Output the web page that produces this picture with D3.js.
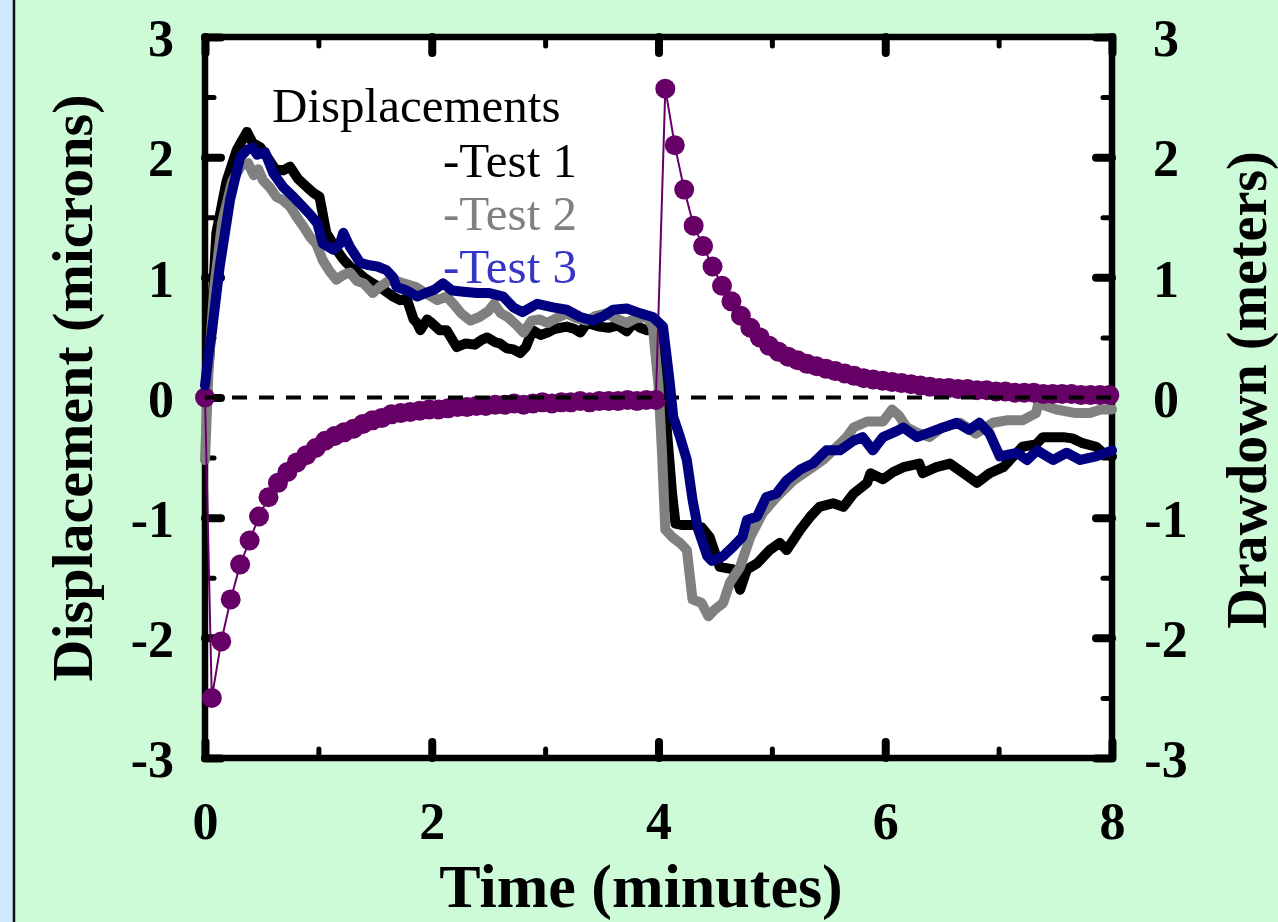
<!DOCTYPE html>
<html>
<head>
<meta charset="utf-8">
<script src="https://cdn.jsdelivr.net/npm/d3@7"></script>
<style>
  html, body { margin: 0; padding: 0; background: #cdfbd8; }
  svg { display: block; font-family: "Liberation Serif", "Times New Roman", serif; }
</style>
</head>
<body>
<div id="chart-container"></div>
<script>
/**************************************************
 * Data
 **************************************************/

// Displacement traces, [minutes, microns]
const test1 = [
  [0,0],[0.04,0.35],[0.1,1.37],[0.19,1.8],[0.28,2.06],[0.37,2.21],[0.42,2.12],[0.49,2.08],[0.55,2.0],[0.62,1.9],
  [0.69,1.89],[0.75,1.92],[0.82,1.82],[0.9,1.75],[0.96,1.7],[1.01,1.67],[1.07,1.37],[1.16,1.23],[1.22,1.15],[1.28,1.09],
  [1.34,1.05],[1.4,1.0],[1.48,0.95],[1.57,0.9],[1.66,0.84],[1.72,0.81],[1.78,0.82],[1.84,0.65],[1.87,0.62],[1.9,0.56],
  [1.96,0.65],[2.0,0.62],[2.07,0.56],[2.13,0.56],[2.22,0.42],[2.3,0.45],[2.38,0.44],[2.44,0.48],[2.49,0.5],[2.56,0.46],
  [2.6,0.45],[2.66,0.41],[2.72,0.4],[2.78,0.37],[2.83,0.42],[2.89,0.56],[2.96,0.52],[3.02,0.54],[3.08,0.57],[3.19,0.59],
  [3.26,0.57],[3.31,0.54],[3.37,0.62],[3.48,0.59],[3.56,0.58],[3.64,0.6],[3.72,0.55],[3.78,0.62],[3.84,0.58],[3.9,0.56],
  [3.98,0.56],[4.05,0],[4.12,-0.8],[4.15,-1.05],[4.2,-1.06],[4.3,-1.06],[4.38,-1.08],[4.45,-1.16],[4.54,-1.41],[4.6,-1.42],
  [4.66,-1.43],[4.72,-1.6],[4.78,-1.43],[4.87,-1.38],[4.98,-1.27],[5.07,-1.21],[5.13,-1.27],[5.25,-1.1],[5.34,-0.99],[5.42,-0.91],
  [5.54,-0.88],[5.63,-0.91],[5.72,-0.8],[5.84,-0.71],[5.87,-0.63],[5.98,-0.68],[6.07,-0.62],[6.16,-0.58],[6.3,-0.55],[6.33,-0.63],
  [6.45,-0.58],[6.57,-0.55],[6.69,-0.63],[6.81,-0.71],[6.92,-0.63],[7.04,-0.58],[7.13,-0.49],[7.21,-0.41],[7.33,-0.39],[7.39,-0.33],
  [7.57,-0.33],[7.65,-0.34],[7.74,-0.38],[7.86,-0.41],[7.92,-0.46],[8.0,-0.49]
];

const test2 = [
  [0,-0.52],[0.03,0.2],[0.08,0.9],[0.15,1.45],[0.24,1.8],[0.32,1.93],[0.38,1.95],[0.43,1.85],[0.47,1.9],[0.51,1.81],
  [0.57,1.75],[0.63,1.67],[0.69,1.64],[0.75,1.59],[0.81,1.5],[0.87,1.42],[0.93,1.33],[0.98,1.28],[1.04,1.14],[1.1,1.05],
  [1.16,0.98],[1.22,1.02],[1.28,1.04],[1.34,0.97],[1.4,0.95],[1.48,0.87],[1.54,0.92],[1.62,0.97],[1.69,0.97],[1.75,0.95],
  [1.86,0.92],[1.96,0.86],[2.05,0.81],[2.13,0.84],[2.19,0.78],[2.26,0.7],[2.34,0.64],[2.42,0.67],[2.5,0.72],[2.55,0.78],
  [2.61,0.7],[2.67,0.67],[2.75,0.6],[2.81,0.54],[2.88,0.64],[2.95,0.65],[3.02,0.62],[3.1,0.66],[3.19,0.7],[3.27,0.66],
  [3.37,0.64],[3.45,0.68],[3.54,0.7],[3.62,0.66],[3.72,0.62],[3.8,0.66],[3.9,0.67],[3.95,0.59],[4.0,0.1],[4.03,-0.44],
  [4.06,-1.1],[4.12,-1.16],[4.19,-1.21],[4.25,-1.27],[4.3,-1.68],[4.38,-1.71],[4.44,-1.82],[4.49,-1.77],[4.57,-1.71],[4.63,-1.54],
  [4.72,-1.41],[4.81,-1.16],[4.92,-0.96],[5.04,-0.83],[5.19,-0.69],[5.36,-0.58],[5.45,-0.52],[5.54,-0.44],[5.66,-0.33],[5.72,-0.25],
  [5.84,-0.2],[5.98,-0.2],[6.06,-0.1],[6.12,-0.15],[6.19,-0.25],[6.3,-0.3],[6.39,-0.33],[6.5,-0.25],[6.66,-0.21],[6.8,-0.3],
  [6.95,-0.21],[7.07,-0.19],[7.21,-0.19],[7.33,-0.13],[7.35,-0.05],[7.51,-0.1],[7.68,-0.13],[7.8,-0.13],[7.9,-0.1],[8.0,-0.1]
];

const test3 = [
  [0,0.1],[0.03,0.35],[0.06,0.54],[0.13,1.09],[0.22,1.64],[0.31,2.0],[0.37,2.06],[0.42,2.08],[0.46,2.02],[0.53,2.04],
  [0.6,1.87],[0.69,1.75],[0.78,1.67],[0.87,1.58],[0.93,1.52],[0.99,1.45],[1.04,1.28],[1.13,1.23],[1.19,1.28],[1.22,1.37],
  [1.28,1.25],[1.37,1.12],[1.45,1.1],[1.52,1.09],[1.6,1.06],[1.66,1.0],[1.69,0.92],[1.78,0.89],[1.87,0.84],[1.95,0.87],
  [2.03,0.9],[2.1,0.95],[2.18,0.89],[2.28,0.88],[2.4,0.87],[2.5,0.87],[2.63,0.84],[2.72,0.75],[2.8,0.71],[2.93,0.78],
  [3.07,0.75],[3.19,0.73],[3.31,0.67],[3.42,0.64],[3.52,0.68],[3.6,0.73],[3.72,0.74],[3.84,0.7],[3.95,0.67],[4.04,0.59],
  [4.1,0.12],[4.13,-0.16],[4.19,-0.33],[4.25,-0.52],[4.3,-0.85],[4.35,-1.1],[4.43,-1.32],[4.47,-1.36],[4.57,-1.32],[4.66,-1.24],
  [4.74,-1.16],[4.78,-1.02],[4.87,-0.99],[4.95,-0.83],[5.04,-0.8],[5.13,-0.69],[5.25,-0.6],[5.36,-0.55],[5.48,-0.44],[5.6,-0.44],
  [5.72,-0.36],[5.8,-0.33],[5.89,-0.44],[5.98,-0.33],[6.1,-0.28],[6.16,-0.25],[6.28,-0.33],[6.45,-0.27],[6.63,-0.21],[6.74,-0.27],
  [6.83,-0.21],[6.92,-0.3],[7.01,-0.49],[7.16,-0.46],[7.25,-0.52],[7.34,-0.44],[7.48,-0.52],[7.6,-0.46],[7.72,-0.52],[7.86,-0.49],
  [8.0,-0.44]
];

// Drawdown (meters), sampled every 5 s; pumping then recovery
const sampleStep = 1 / 12;
const drawdownStartValue = 0;
const pumpingStart = 0.06;
const pumpingDrawdown = [
  -2.50,-2.03,-1.68,-1.39,-1.19,-0.99,-0.83,-0.71,-0.62,-0.54,-0.48,-0.42,
  -0.36,-0.32,-0.29,-0.26,-0.22,-0.19,-0.17,-0.14,-0.13,-0.12,-0.11,-0.10,
  -0.10,-0.09,-0.08,-0.08,-0.07,-0.07,-0.06,-0.06,-0.05,-0.06,-0.05,-0.04,
  -0.05,-0.04,-0.04,-0.03,-0.04,-0.03,-0.03,-0.03,-0.02,-0.03,-0.02,-0.02
];
const recoveryStart = 4.06;
const recoveryDrawdown = [
  2.57,2.10,1.73,1.43,1.26,1.09,0.93,0.80,0.68,0.58,0.50,0.43,
  0.38,0.34,0.31,0.28,0.26,0.24,0.22,0.20,0.18,0.16,0.15,0.14,
  0.13,0.12,0.11,0.10,0.09,0.08,0.08,0.07,0.07,0.06,0.06,0.05,
  0.05,0.04,0.04,0.04,0.03,0.03,0.03,0.03,0.02,0.02,0.02,0.02
];

// Axes
const xTicks = [0, 2, 4, 6, 8];
const xMinorTicks = [1, 3, 5, 7];
const yTicks = [-3, -2, -1, 0, 1, 2, 3];
const yMinorTicks = [-2.5, -1.5, -0.5, 0.5, 1.5, 2.5];

// Legend
const legendTitle = "Displacements";
const legendItems = [
  { label: "-Test 1", color: "#000000" },
  { label: "-Test 2", color: "#808080" },
  { label: "-Test 3", color: "#3535c8" }
];

/**************************************************
 * Rendering
 **************************************************/

const W = 1278, H = 922;
const font = "'Liberation Serif', 'Times New Roman', serif";
const plainNumber = d => String(d); // hyphen minus like the original

const svg = d3.select("#chart-container")
  .append("svg")
  .attr("width", W)
  .attr("height", H);

// backgrounds
svg.append("rect").attr("x", 0).attr("y", 0).attr("width", W).attr("height", H).attr("fill", "#cdfbd8");
svg.append("rect").attr("x", 0).attr("y", 0).attr("width", 13).attr("height", H).attr("fill", "#cde9fe");
svg.append("line").attr("x1", 14).attr("x2", 14).attr("y1", 0).attr("y2", H)
  .attr("stroke", "#111").attr("stroke-width", 2.5);

const xScale = d3.scaleLinear().domain([0, 8]).range([205, 1112]);
const yScale = d3.scaleLinear().domain([-3, 3]).range([758, 37]);

// plot area + frame
svg.append("rect")
  .attr("x", 205).attr("y", 37)
  .attr("width", 1112 - 205).attr("height", 758 - 37)
  .attr("fill", "#fff")
  .attr("stroke", "#000")
  .attr("stroke-width", 6.5);

function styleTicks(g, width) {
  g.select(".domain").remove();
  g.selectAll(".tick line")
    .attr("stroke", "#000")
    .attr("stroke-width", width)
    .attr("stroke-linecap", "round");
}

function styleLabels(g) {
  g.selectAll(".tick text")
    .attr("font-family", font)
    .attr("font-size", 52)
    .attr("font-weight", "bold")
    .attr("fill", "#000");
}

// major ticks with labels
svg.append("g")
  .attr("transform", `translate(205,0)`)
  .call(d3.axisLeft(yScale).tickValues(yTicks).tickFormat(plainNumber).tickSize(-16).tickPadding(31))
  .call(g => styleTicks(g, 8))
  .call(styleLabels)
  .call(g => g.selectAll(".tick text").attr("dy", "0.36em"));

svg.append("g")
  .attr("transform", `translate(1112,0)`)
  .call(d3.axisRight(yScale).tickValues(yTicks).tickFormat(plainNumber).tickSize(-16))
  .call(g => styleTicks(g, 8))
  .call(styleLabels)
  .call(g => g.selectAll(".tick text").attr("x", 54).attr("text-anchor", "middle").attr("dy", "0.36em"));

svg.append("g")
  .attr("transform", `translate(0,758)`)
  .call(d3.axisBottom(xScale).tickValues(xTicks).tickFormat(plainNumber).tickSize(-16))
  .call(g => styleTicks(g, 8))
  .call(styleLabels)
  .call(g => g.selectAll(".tick text").attr("y", 81).attr("dy", 0));

svg.append("g")
  .attr("transform", `translate(0,37)`)
  .call(d3.axisTop(xScale).tickValues(xTicks).tickFormat("").tickSize(-16))
  .call(g => styleTicks(g, 8));

// minor ticks
svg.append("g").attr("transform", `translate(205,0)`)
  .call(d3.axisLeft(yScale).tickValues(yMinorTicks).tickFormat("").tickSize(-9))
  .call(g => styleTicks(g, 5));
svg.append("g").attr("transform", `translate(1112,0)`)
  .call(d3.axisRight(yScale).tickValues(yMinorTicks).tickFormat("").tickSize(-9))
  .call(g => styleTicks(g, 5));
svg.append("g").attr("transform", `translate(0,758)`)
  .call(d3.axisBottom(xScale).tickValues(xMinorTicks).tickFormat("").tickSize(-9))
  .call(g => styleTicks(g, 5));
svg.append("g").attr("transform", `translate(0,37)`)
  .call(d3.axisTop(xScale).tickValues(xMinorTicks).tickFormat("").tickSize(-9))
  .call(g => styleTicks(g, 5));

// axis titles
svg.append("text")
  .attr("x", 641).attr("y", 907)
  .attr("text-anchor", "middle")
  .attr("font-family", font).attr("font-size", 62).attr("font-weight", "bold")
  .text("Time (minutes)");

svg.append("text")
  .attr("transform", "translate(92,388) rotate(-90)")
  .attr("text-anchor", "middle")
  .attr("font-family", font).attr("font-size", 58).attr("font-weight", "bold")
  .text("Displacement (microns)");

svg.append("text")
  .attr("transform", "translate(1266,390) rotate(-90)")
  .attr("text-anchor", "middle")
  .attr("font-family", font).attr("font-size", 56).attr("font-weight", "bold")
  .text("Drawdown (meters)");

// data
const line = d3.line().x(d => xScale(d[0])).y(d => yScale(d[1]));

function drawTrace(data, color) {
  svg.append("path")
    .datum(data)
    .attr("d", line)
    .attr("fill", "none")
    .attr("stroke", color)
    .attr("stroke-width", 10)
    .attr("stroke-linejoin", "round")
    .attr("stroke-linecap", "round");
}

drawTrace(test1, "#000000");
drawTrace(test2, "#808080");

const drawdown = [[0, drawdownStartValue]]
  .concat(pumpingDrawdown.map((v, i) => [pumpingStart + i * sampleStep, v]))
  .concat(recoveryDrawdown.map((v, i) => [recoveryStart + i * sampleStep, v]));

svg.append("path")
  .datum(drawdown)
  .attr("d", line)
  .attr("fill", "none")
  .attr("stroke", "#660066")
  .attr("stroke-width", 2);

svg.selectAll(".dd-dot")
  .data(drawdown)
  .enter()
  .append("circle")
  .attr("class", "dd-dot")
  .attr("cx", d => xScale(d[0]))
  .attr("cy", d => yScale(d[1]))
  .attr("r", 10)
  .attr("fill", "#660066");

// zero line
svg.append("line")
  .attr("x1", xScale(0)).attr("x2", xScale(8))
  .attr("y1", yScale(0)).attr("y2", yScale(0))
  .attr("stroke", "#000")
  .attr("stroke-width", 4)
  .attr("stroke-dasharray", "15,12");

drawTrace(test3, "#000080");

// legend
svg.append("text")
  .attr("x", 272).attr("y", 122)
  .attr("font-family", font).attr("font-size", 49)
  .attr("fill", "#000")
  .text(legendTitle);

svg.selectAll(".legend-item")
  .data(legendItems)
  .enter()
  .append("text")
  .attr("class", "legend-item")
  .attr("x", 577)
  .attr("y", (d, i) => 177 + i * 53)
  .attr("text-anchor", "end")
  .attr("font-family", font).attr("font-size", 49)
  .attr("fill", d => d.color)
  .text(d => d.label);
</script>
</body>
</html>
